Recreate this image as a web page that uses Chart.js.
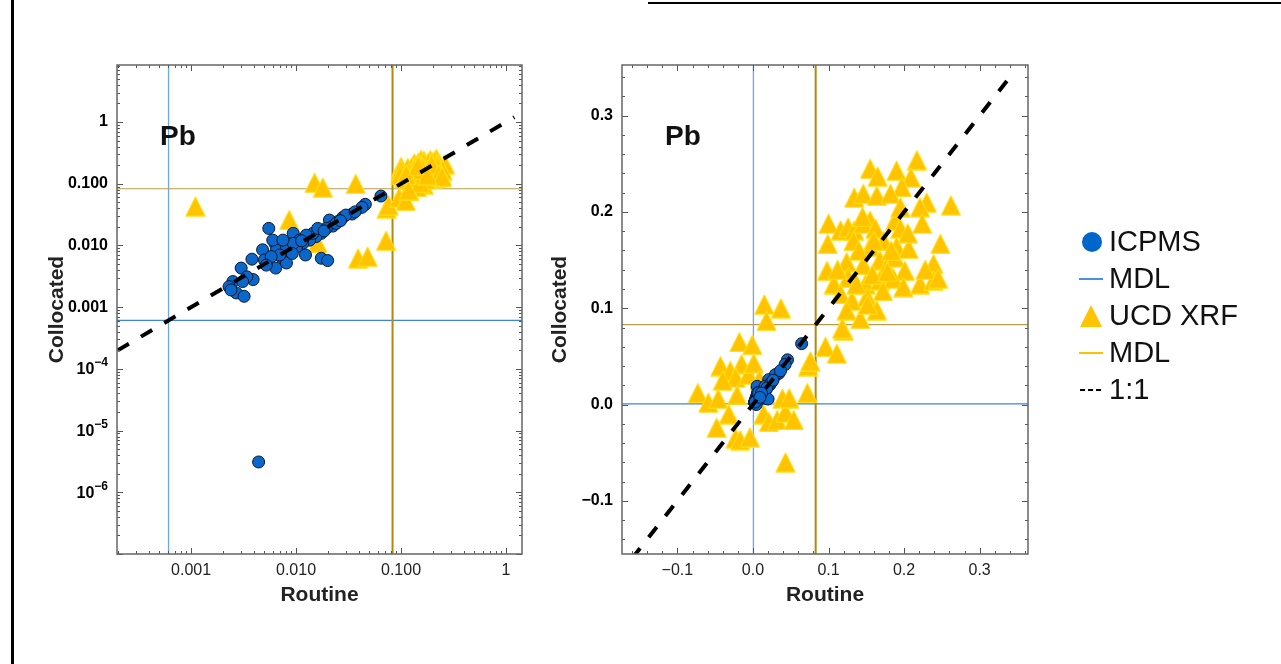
<!DOCTYPE html>
<html>
<head>
<meta charset="utf-8">
<title>Pb routine vs collocated</title>
<script src="https://cdn.jsdelivr.net/npm/chart.js@4.4.1/dist/chart.umd.min.js"></script>
<style>
  html, body { margin: 0; padding: 0; background: #fff; }
  body { width: 1281px; height: 664px; position: relative; overflow: hidden; font-family: "Liberation Sans", Arial, sans-serif; }
  #logChart { position: absolute; left: 0; top: 0; }
  #linChart { position: absolute; left: 530px; top: 0; }
  .edge-v { position: absolute; left: 11px; top: 0; width: 3px; height: 664px; background: #000; }
  .edge-h { position: absolute; left: 648px; top: 2px; width: 633px; height: 2px; background: #000; }
  #legend { position: absolute; left: 1079px; top: 223px; }
  #legend .row { height: 37px; display: flex; align-items: center; font-size: 29px; color: #111; }
  #legend svg { width: 24px; height: 24px; margin-right: 6px; flex: none; }
</style>
</head>
<body>
<div class="edge-v"></div>
<div class="edge-h"></div>
<canvas id="logChart" width="560" height="664"></canvas>
<canvas id="linChart" width="550" height="664"></canvas>
<div id="legend">
  <div class="row"><svg viewBox="0 0 24 24"><circle cx="13" cy="12" r="10" fill="#0066cc"/></svg><span>ICPMS</span></div>
  <div class="row"><svg viewBox="0 0 24 24"><line x1="0" y1="12" x2="24" y2="12" stroke="#4a90e2" stroke-width="2"/></svg><span>MDL</span></div>
  <div class="row"><svg viewBox="0 0 24 24"><polygon points="12,1 1,23 23,23" fill="#ffc300"/></svg><span>UCD XRF</span></div>
  <div class="row"><svg viewBox="0 0 24 24"><line x1="0" y1="12" x2="24" y2="12" stroke="#ffc000" stroke-width="2"/></svg><span>MDL</span></div>
  <div class="row"><svg viewBox="0 0 24 24"><line x1="1" y1="12" x2="24" y2="12" stroke="#000" stroke-width="2" stroke-dasharray="5,3"/></svg><span>1:1</span></div>
</div>
<script>
// Pb, routine vs collocated sampler (ICPMS and UCD XRF), log and linear views

// ---- data ----
const icpmsRoutine = [
  0.0644, 0.0457, 0.0425, 0.0342, 0.0279, 0.0250, 0.0208, 0.0224, 0.0194, 0.0174,
  0.0155, 0.0135, 0.0116, 0.0094, 0.0055, 0.0101, 0.0123, 0.0087, 0.0072, 0.0063,
  0.0065, 0.0048, 0.0081, 0.0064, 0.0050, 0.0038, 0.0030, 0.0039, 0.0034, 0.0025,
  0.0023, 0.0027, 0.0032, 0.0024, 0.0174, 0.0200, 0.0145, 0.0108, 0.0081, 0.0070,
  0.0058, 0.0052, 0.0125, 0.0161, 0.0241, 0.0298, 0.0060, 0.0094, 0.0075, 0.0044,
  0.0031, 0.0185, 0.0265, 0.0365, 0.0113, 0.0092
];
const icpmsCollocated = [
  0.0632, 0.0464, 0.0415, 0.0323, 0.0285, 0.0244, 0.0258, 0.0206, 0.0189, 0.0157,
  0.0139, 0.0122, 0.0108, 0.0157, 0.0189, 0.0094, 0.0070, 0.0085, 0.0066, 0.0108,
  0.0085, 0.0085, 0.0052, 0.0043, 0.0058, 0.0060, 0.0043, 0.0028, 0.0031, 0.0026,
  0.00215, 0.0017, 0.0015, 0.0019, 0.0062, 0.0057, 0.0157, 0.0122, 0.0095, 0.0070,
  0.0066, 0.0048, 0.0147, 0.0189, 0.0228, 0.0311, 0.0122, 0.0108, 0.0122, 0.0000031,
  0.0026, 0.0172, 0.0252, 0.0350, 0.0119, 0.0074
];

const xrfRoutine = [
  0.217, 0.155, 0.165, 0.190, 0.209, 0.197, 0.134, 0.146, 0.164, 0.182,
  0.230, 0.262, 0.221, 0.100, 0.116, 0.126, 0.134, 0.155, 0.146, 0.162,
  0.188, 0.195, 0.224, 0.099, 0.133, 0.155, 0.173, 0.190, 0.206, 0.248,
  0.098, 0.124, 0.146, 0.168, 0.177, 0.188, 0.201, 0.239, 0.107, 0.126,
  0.149, 0.168, 0.186, 0.199, 0.221, 0.239, 0.116, 0.131, 0.151, 0.164,
  0.124, 0.142, 0.120,
  0.140, 0.158, 0.172, 0.183, 0.205, 0.137, 0.152, 0.112, 0.195, 0.228,
  0.245, 0.160, 0.145, 0.178,
  0.015, 0.037, 0.018, -0.018, -0.001, -0.043, -0.030, -0.015, -0.023, -0.040,
  -0.006, -0.073, -0.059, -0.046, -0.021, -0.032, -0.048, -0.023, -0.017, -0.004,
  0.043, 0.014, 0.021, 0.032, 0.043, 0.054, 0.039, 0.048, 0.072, 0.073,
  0.076, 0.096, 0.111, 0.016, 0.118, 0.0011, 0.0086
];
const xrfCollocated = [
  0.254, 0.245, 0.237, 0.243, 0.236, 0.226, 0.215, 0.219, 0.217, 0.219,
  0.210, 0.207, 0.205, 0.188, 0.181, 0.184, 0.181, 0.191, 0.188, 0.183,
  0.191, 0.183, 0.188, 0.167, 0.170, 0.164, 0.170, 0.164, 0.162, 0.167,
  0.139, 0.148, 0.145, 0.150, 0.143, 0.153, 0.139, 0.146, 0.125, 0.132,
  0.125, 0.129, 0.131, 0.122, 0.125, 0.129, 0.115, 0.108, 0.112, 0.098,
  0.098, 0.089, 0.077,
  0.160, 0.135, 0.118, 0.160, 0.178, 0.125, 0.104, 0.140, 0.205, 0.140,
  0.131, 0.170, 0.195, 0.138,
  0.104, 0.100, 0.087, 0.065, 0.062, 0.040, 0.035, 0.042, 0.028, 0.025,
  0.031, 0.012, 0.002, 0.006, 0.010, -0.010, -0.024, -0.035, -0.037, -0.034,
  -0.060, -0.010, -0.018, -0.016, -0.008, -0.016, 0.0062, 0.0066, 0.012, 0.040,
  0.045, 0.060, 0.053, 0.011, 0.079, 0.043, 0.026
];

const icpmsMdl = 0.00061;
const xrfMdl = 0.083;

// axis extents and tick labels ("base^exp" labels get a raised exponent)
const logXRange = [1.97e-4, 1.42];
const logYRange = [1.0e-7, 8.4];
const linXRange = [-0.1733, 0.364];
const linYRange = [-0.1553, 0.3527];

const logXTicks = [0.001, 0.01, 0.1, 1];
const logXLabels = ['0.001', '0.010', '0.100', '1'];
const logYTicks = [1e-6, 1e-5, 1e-4, 0.001, 0.01, 0.1, 1];
const logYLabels = ['10^\u22126', '10^\u22125', '10^\u22124', '0.001', '0.010', '0.100', '1'];
const linTicks = [-0.1, 0, 0.1, 0.2, 0.3];
const linLabels = ['\u22120.1', '0.0', '0.1', '0.2', '0.3'];

const oneToOneLog = [2e-4, 1.2];
const oneToOneLin = [-0.16, 0.34];

const FONT = '"Liberation Sans", Arial, sans-serif';

// ---- helpers ----
function pts(xs, ys, keep) {
  const out = [];
  xs.forEach((x, i) => { if (keep(x, ys[i])) out.push({ x: x, y: ys[i] }); });
  return out;
}

function logMarks(lo, hi) {
  const out = [];
  for (let e = Math.floor(Math.log10(lo)); e <= Math.ceil(Math.log10(hi)); e++) {
    for (let k = 1; k <= 9; k++) {
      const v = k * Math.pow(10, e);
      if (v >= lo && v <= hi) out.push({ v: v, major: k === 1 });
    }
  }
  return out;
}

function linMarks(lo, hi) {
  const out = [];
  for (let i = Math.ceil(lo / 0.02); i <= Math.floor(hi / 0.02); i++) {
    out.push({ v: i * 0.02, major: i % 5 === 0 });
  }
  return out;
}

// tall triangle marker used as pointStyle
function triangleMarker(size) {
  const c = document.createElement('canvas');
  c.width = size; c.height = size;
  const g = c.getContext('2d');
  g.beginPath();
  g.moveTo(size / 2, 0.8);
  g.lineTo(size - 0.8, size - 0.8);
  g.lineTo(0.8, size - 0.8);
  g.closePath();
  g.fillStyle = '#ffc300';
  g.fill();
  g.strokeStyle = '#ffe51c';
  g.lineWidth = 1;
  g.stroke();
  return c;
}
const xrfMarker = triangleMarker(21);

// frame with inward ticks on all four sides, power-of-ten labels, panel label
const frameTicks = {
  id: 'frameTicks',
  afterDatasetsDraw(chart, args, opts) {
    const { ctx, chartArea: a } = chart;
    const xs = chart.scales.x, ys = chart.scales.y;
    ctx.save();
    ctx.strokeStyle = '#555';
    ctx.lineWidth = 1;
    ctx.beginPath();
    opts.xMarks.forEach(m => {
      const p = Math.round(xs.getPixelForValue(m.v)) + 0.5;
      const len = m.major ? 6 : 3;
      ctx.moveTo(p, a.bottom); ctx.lineTo(p, a.bottom - len);
      ctx.moveTo(p, a.top); ctx.lineTo(p, a.top + len);
    });
    opts.yMarks.forEach(m => {
      const p = Math.round(ys.getPixelForValue(m.v)) + 0.5;
      const len = m.major ? 6 : 3;
      ctx.moveTo(a.left, p); ctx.lineTo(a.left + len, p);
      ctx.moveTo(a.right, p); ctx.lineTo(a.right - len, p);
    });
    ctx.stroke();
    ctx.strokeStyle = '#666';
    ctx.lineWidth = 1.5;
    ctx.strokeRect(a.left, a.top, a.right - a.left, a.bottom - a.top);

    // y labels written as base^exp
    ctx.fillStyle = '#000';
    ctx.textAlign = 'right';
    ctx.textBaseline = 'middle';
    opts.yTicks.forEach((v, i) => {
      const lab = opts.yLabels[i];
      if (lab.indexOf('^') < 0) return;
      const [base, exp] = lab.split('^');
      const py = ys.getPixelForValue(v);
      const xr = a.left - 9;
      ctx.font = 'bold 12px ' + FONT;
      const ew = ctx.measureText(exp).width;
      ctx.fillText(exp, xr, py - 6);
      ctx.font = 'bold 16px ' + FONT;
      ctx.fillText(base, xr - ew, py + 1);
    });

    ctx.fillStyle = '#111';
    ctx.textAlign = 'left';
    ctx.font = 'bold 28px ' + FONT;
    ctx.textBaseline = 'alphabetic';
    ctx.fillText(opts.label, a.left + 43, a.top + 80);
    ctx.restore();
  }
};

function makeChart(id, cfg) {
  const isLog = cfg.log;
  const keep = isLog ? (x, y) => x > 0 && y > 0 : () => true;
  const xr = cfg.xRange, yr = cfg.yRange;

  const datasets = [
    { label: '1:1', data: cfg.diag.map(v => ({ x: v, y: v })), showLine: true,
      borderColor: '#000', borderWidth: 4, borderDash: [13, 14], pointRadius: 0, clip: 0 },
    { label: 'ICPMS', data: pts(icpmsRoutine, icpmsCollocated, keep), pointStyle: 'circle',
      pointRadius: 6, backgroundColor: '#0b67c9', borderColor: '#0a1830', borderWidth: 1, clip: 0 },
    { label: 'UCD XRF', data: pts(xrfRoutine, xrfCollocated, keep), pointStyle: xrfMarker,
      pointRadius: 10, clip: 0 },
    { label: 'MDL xrf v', data: [{ x: xrfMdl, y: yr[0] }, { x: xrfMdl, y: yr[1] }], showLine: true,
      borderColor: '#b08810', borderWidth: 2, pointRadius: 0, clip: 0 },
    { label: 'MDL xrf h', data: [{ x: xr[0], y: xrfMdl }, { x: xr[1], y: xrfMdl }], showLine: true,
      borderColor: '#bb9a48', borderWidth: 1.2, pointRadius: 0, clip: 0 },
    { label: 'MDL icpms v', data: [{ x: icpmsMdl, y: yr[0] }, { x: icpmsMdl, y: yr[1] }], showLine: true,
      borderColor: '#6aa8ea', borderWidth: 1.3, pointRadius: 0, clip: 0 },
    { label: 'MDL icpms h', data: [{ x: xr[0], y: icpmsMdl }, { x: xr[1], y: icpmsMdl }], showLine: true,
      borderColor: '#3d85d8', borderWidth: 1.2, pointRadius: 0, clip: 0 }
  ];

  return new Chart(document.getElementById(id), {
    type: 'scatter',
    data: { datasets },
    options: {
      responsive: false,
      animation: false,
      devicePixelRatio: 1,
      layout: { padding: { left: 0, top: 65, right: cfg.padRight, bottom: 0 } },
      plugins: {
        legend: { display: false },
        tooltip: { enabled: false },
        frameTicks: { xMarks: cfg.xMarks, yMarks: cfg.yMarks, yTicks: cfg.yTicks, yLabels: cfg.yLabels, label: 'Pb' }
      },
      scales: {
        x: {
          type: isLog ? 'logarithmic' : 'linear',
          min: xr[0], max: xr[1], bounds: 'data',
          grid: { display: false, drawTicks: false },
          border: { display: false },
          afterBuildTicks: s => { s.ticks = cfg.xTicks.map(v => ({ value: v })); },
          afterFit: s => { s.height = 110; },
          ticks: { autoSkip: false, maxRotation: 0, padding: 7, color: '#222',
                   font: { size: 16, family: FONT }, callback: (v, i) => cfg.xLabels[i] },
          title: { display: true, text: 'Routine', color: '#222',
                   font: { size: 21, weight: 'bold', family: FONT }, padding: { top: 0, bottom: 56 } }
        },
        y: {
          type: isLog ? 'logarithmic' : 'linear',
          min: yr[0], max: yr[1], bounds: 'data',
          grid: { display: false, drawTicks: false },
          border: { display: false },
          afterBuildTicks: s => { s.ticks = cfg.yTicks.map(v => ({ value: v })); },
          afterFit: s => { s.width = cfg.yWidth; },
          ticks: { autoSkip: false, padding: 9, color: '#000',
                   font: { size: 16, weight: 'bold', family: FONT },
                   callback: (v, i) => (cfg.yLabels[i].indexOf('^') < 0 ? cfg.yLabels[i] : '') },
          title: { display: true, text: 'Collocated', color: '#222',
                   font: { size: 21, weight: 'bold', family: FONT }, padding: { top: cfg.yTitlePad, bottom: 0 } }
        }
      }
    },
    plugins: [frameTicks]
  });
}

makeChart('logChart', {
  log: true, xRange: logXRange, yRange: logYRange, diag: oneToOneLog,
  xTicks: logXTicks, xLabels: logXLabels, yTicks: logYTicks, yLabels: logYLabels,
  xMarks: logMarks(logXRange[0], logXRange[1]), yMarks: logMarks(logYRange[0], logYRange[1]),
  padRight: 38, yWidth: 117, yTitlePad: 45
});

makeChart('linChart', {
  log: false, xRange: linXRange, yRange: linYRange, diag: oneToOneLin,
  xTicks: linTicks, xLabels: linLabels, yTicks: linTicks, yLabels: linLabels,
  xMarks: linMarks(linXRange[0], linXRange[1]), yMarks: linMarks(linYRange[0], linYRange[1]),
  padRight: 52, yWidth: 92, yTitlePad: 18
});
</script>
</body>
</html>
